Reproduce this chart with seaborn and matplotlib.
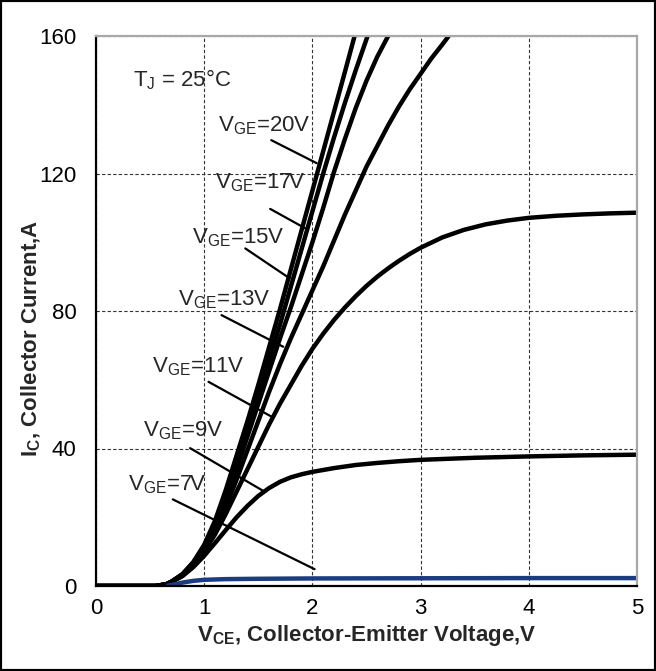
import matplotlib
matplotlib.use("Agg")
import matplotlib.pyplot as plt
from matplotlib.patches import Rectangle
import seaborn as sns
import pandas as pd
from matplotlib import font_manager

# ---------------- data ----------------
v20 = [0, 0.55, 0.65, 0.7, 0.8, 0.9, 1.0, 1.1, 1.2, 1.3, 1.4, 1.5, 1.6, 1.7, 1.8, 1.9, 2.0, 2.1, 2.2, 2.3, 2.39]
i20 = [0, 0, 0.5, 1.3, 3.5, 7, 12, 19, 28, 38, 48, 58.5, 69.5, 80.5, 92, 103.5, 115, 126.5, 138, 149.5, 160]

v17 = [0, 0.55, 0.65, 0.7, 0.8, 0.9, 1.0, 1.1, 1.2, 1.3, 1.4, 1.5, 1.6, 1.7, 1.8, 1.9, 2.0, 2.1, 2.2, 2.3, 2.4, 2.51]
i17 = [0, 0, 0.5, 1.3, 3.4, 6.8, 11.5, 18, 26.5, 36, 46, 56, 66, 76, 87, 98, 109, 120, 130.5, 140.5, 150, 160]

v15 = [0, 0.55, 0.65, 0.7, 0.8, 0.9, 1.0, 1.1, 1.2, 1.3, 1.4, 1.5, 1.6, 1.7, 1.8, 1.9, 2.0, 2.1, 2.2, 2.3, 2.4, 2.5, 2.6, 2.7]
i15 = [0, 0, 0.5, 1.3, 3.3, 6.5, 11, 17, 25, 34, 43.5, 53, 62.5, 72, 81, 90.5, 100, 110, 120.5, 130, 139, 147, 154, 160]

v13 = [0, 0.55, 0.65, 0.7, 0.8, 0.9, 1.0, 1.1, 1.2, 1.3, 1.4, 1.5, 1.6, 1.7, 1.8, 1.9, 2.0, 2.1, 2.2, 2.3, 2.4, 2.5,
       2.6, 2.7, 2.8, 2.9, 3.0, 3.1, 3.2, 3.26]
i13 = [0, 0, 0.5, 1.3, 3.2, 6.2, 10.5, 16, 23, 31, 39.5, 48, 56.5, 64.5, 72, 79, 86, 93, 100.5, 108, 115, 122,
       128, 134, 139.5, 144.5, 149, 153.5, 157.5, 160]

v11 = [0, 0.55, 0.65, 0.7, 0.8, 0.9, 1.0, 1.1, 1.2, 1.3, 1.4, 1.5, 1.6, 1.7, 1.8, 1.9, 2.0, 2.1, 2.2, 2.3, 2.4, 2.5,
       2.6, 2.7, 2.8, 2.9, 3.0, 3.2, 3.4, 3.6, 3.8, 4.0, 4.25, 4.5, 4.75, 5.0]
i11 = [0, 0, 0.5, 1.2, 3, 6, 10, 15, 21, 27.5, 34, 40.5, 47, 53, 58.5, 64, 69, 73.4, 77.4, 81, 84.3, 87.3,
       90, 92.4, 94.6, 96.6, 98.4, 101.4, 103.6, 105.2, 106.3, 107.1, 107.7, 108.1, 108.4, 108.6]

v9 = [0, 0.55, 0.65, 0.7, 0.8, 0.9, 1.0, 1.1, 1.2, 1.3, 1.4, 1.5, 1.6, 1.7, 1.8, 1.9, 2.0, 2.2, 2.4, 2.6, 2.8, 3.0,
      3.5, 4.0, 4.5, 5.0]
i9 = [0, 0, 0.5, 1.2, 2.9, 5.5, 8.8, 12.5, 16.3, 20, 23.3, 26.2, 28.5, 30.3, 31.6, 32.5, 33.2, 34.3, 35.2, 35.8, 36.3, 36.7,
      37.3, 37.7, 38, 38.2]

v7 = [0.65, 0.7, 0.8, 0.9, 1.0, 1.2, 1.5, 2.0, 3.0, 4.0, 5.0]
i7 = [0, 0.3, 1.0, 1.5, 1.8, 2.0, 2.1, 2.2, 2.25, 2.3, 2.3]

series_names = ["20V", "17V", "15V", "13V", "11V", "9V", "7V"]
series_v = [v20, v17, v15, v13, v11, v9, v7]
series_i = [i20, i17, i15, i13, i11, i9, i7]

# label text anchors (left x, centre y) and leader lines (start -> end), data coords
label_names = ["20V", "17V", "15V", "13V", "11V", "9V", "7V"]
label_x = [1.13, 1.10, 0.89, 0.76, 0.52, 0.43, 0.30]
label_y = [133.8, 117.2, 101.2, 83.2, 63.7, 45.1, 29.4]
lead_x0 = [1.62, 1.61, 1.38, 1.16, 1.04, 0.87, 0.71]
lead_y0 = [129.7, 109.7, 98.2, 78.8, 59.4, 40.1, 25.2]
lead_x1 = [2.04, 1.96, 1.79, 1.73, 1.62, 1.56, 2.02]
lead_y1 = [123.0, 103.6, 89.5, 69.6, 49.3, 27.4, 4.9]

x_ticks = [0, 1, 2, 3, 4, 5]
y_ticks = [0, 40, 80, 120, 160]

# ---------------- style ----------------
sns.set_style("white")
names = {f.name for f in font_manager.fontManager.ttflist}
fam = [f for f in ["Liberation Sans Narrow", "Liberation Sans", "DejaVu Sans"] if f in names]
plt.rcParams["font.family"] = fam
plt.rcParams["mathtext.default"] = "regular"

rows = []
for n, vs, iss in zip(series_names, series_v, series_i):
    for k, (a, b) in enumerate(zip(vs, iss)):
        rows.append({"VGE": n, "VCE": a, "IC": b, "ord": k})
df = pd.DataFrame(rows)

palette = {n: "black" for n in series_names}
palette["7V"] = "#1c3c82"

fig = plt.figure(figsize=(6.56, 6.71), dpi=100)
ax = fig.add_axes([96 / 656, 1 - 586 / 671, 541 / 656, 550 / 671])

sns.lineplot(data=df, x="VCE", y="IC", hue="VGE", palette=palette, hue_order=series_names,
             estimator=None, sort=False, units="VGE", linewidth=3.2, legend=False, ax=ax,
             solid_capstyle="butt")

ax.set_xlim(0, 5)
ax.set_ylim(0, 160)
ax.set_xticks(x_ticks)
ax.set_yticks(y_ticks)
ax.grid(True, linestyle=(0, (3, 2)), color="#333333", linewidth=0.8)
ax.tick_params(axis="both", length=0, labelsize=16, colors="black")
ax.tick_params(axis="y", pad=14)
ax.tick_params(axis="x", pad=9)
for s in ["left", "bottom"]:
    ax.spines[s].set_color("black")
    ax.spines[s].set_linewidth(1.6)
for s in ["top", "right"]:
    ax.spines[s].set_color("#a8a8a8")
    ax.spines[s].set_linewidth(1.6)
ax.set_axisbelow(True)

ax.set_xlabel("V$_{CE}$, Collector-Emitter Voltage,V", fontsize=16, fontweight="bold")
ax.xaxis.set_label_coords(0.5, -0.068)
ax.set_ylabel("I$_{C}$, Collector Current,A", fontsize=16, fontweight="bold")
ax.yaxis.set_label_coords(-0.098, 0.45)

ax.text(0.34, 147.2, "T$_{J}$ = 25°C", fontsize=16, va="center", ha="left")
for n, tx, ty, x0, y0, x1, y1 in zip(label_names, label_x, label_y, lead_x0, lead_y0, lead_x1, lead_y1):
    ax.text(tx, ty, "V$_{GE}$=" + n, fontsize=16, va="center", ha="left")
    ax.plot([x0, x1], [y0, y1], color="black", linewidth=1.6)

fig.patches.append(Rectangle((0, 0), 1, 1, transform=fig.transFigure, fill=False,
                             edgecolor="black", linewidth=3))
fig.savefig("out.png", dpi=100)
